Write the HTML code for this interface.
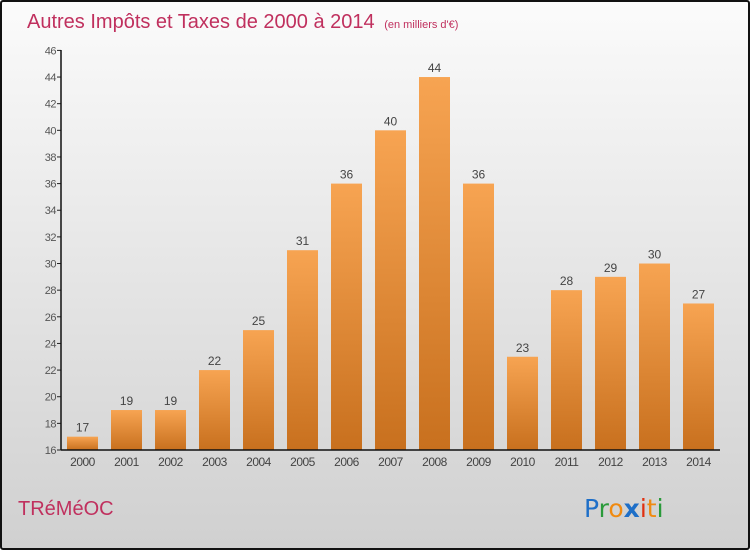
<!DOCTYPE html>
<html><head><meta charset="utf-8"><style>
html,body{margin:0;padding:0}
body{width:750px;height:550px;overflow:hidden;font-family:"Liberation Sans",sans-serif}
#frame{position:absolute;left:0;top:0;width:746px;height:546px;border:2px solid #111;border-radius:3px;background:linear-gradient(#fbfbfb 0%,#f2f2f2 20%,#d0d0d0 100%)}
</style></head><body>
<div id="frame"></div>
<svg id="chart" width="750" height="550" style="position:absolute;left:0;top:0">
<defs><linearGradient id="bg" x1="0" y1="0" x2="0" y2="1"><stop offset="0" stop-color="#f7a452"/><stop offset="1" stop-color="#c8701e"/></linearGradient></defs>
<text x="27" y="28" font-size="20" fill="#c0305e">Autres Impôts et Taxes de 2000 à 2014 <tspan font-size="11" dx="4">(en milliers d'€)</tspan></text>
<text x="18" y="515" font-size="20" fill="#c0305e">TRéMéOC</text>
<g font-size="25" font-family="'DejaVu Sans',sans-serif">
<text x="584" y="517"><tspan fill="#1e6fc8">P</tspan><tspan fill="#2a9a3a">r</tspan><tspan fill="#f08a10">o</tspan><tspan fill="#1e6fc8" font-weight="bold">x</tspan><tspan fill="#e03010">i</tspan><tspan fill="#f08a10">t</tspan><tspan fill="#2a9a3a">i</tspan></text></g>
<g id="plot"></g>
</svg>
<script>
const years=["2000","2001","2002","2003","2004","2005","2006","2007","2008","2009","2010","2011","2012","2013","2014"];
const values=[17,19,19,22,25,31,36,40,44,36,23,28,29,30,27];
const yTicks=[16,18,20,22,24,26,28,30,32,34,36,38,40,42,44,46];
const NS="http://www.w3.org/2000/svg";
const g=document.getElementById('plot');
const y0=16,y1=46,pyB=450,pyT=50.4;
function Y(v){return pyB-(v-y0)/(y1-y0)*(pyB-pyT);}
function X(i){return 82.5+i*44;}
function mk(t,a,p){const e=document.createElementNS(NS,t);for(const k in a)e.setAttribute(k,a[k]);(p||g).appendChild(e);return e;}
yTicks.forEach(v=>{
 const l=mk('line',{x1:57,x2:61,y1:Y(v),y2:Y(v),stroke:'#222'});
 
 
 const t=mk('text',{x:56,y:Y(v)+4,'font-size':11,'text-anchor':'end',fill:'#555','letter-spacing':'-0.5'});
 t.textContent=v;
 
 
});
values.forEach((v,i)=>{
 const r=mk('rect',{x:X(i)-15.5,y:Y(v),width:31,height:pyB-Y(v),fill:'url(#bg)'});
 
 
 const t=mk('text',{x:X(i),y:Y(v)-5,'font-size':12,'text-anchor':'middle',fill:'#444'});
 t.textContent=v;
 
 
 const xl=mk('text',{x:X(i),y:466,'font-size':12,'text-anchor':'middle',fill:'#444','letter-spacing':'-0.5'});
 xl.textContent=years[i];
 
 
});
const ya=mk('line',{x1:61,x2:61,y1:50,y2:450,stroke:'#111','stroke-width':1.5});


const xa=mk('line',{x1:61,x2:720,y1:450,y2:450,stroke:'#111','stroke-width':1.5});


</script>
</body></html>
